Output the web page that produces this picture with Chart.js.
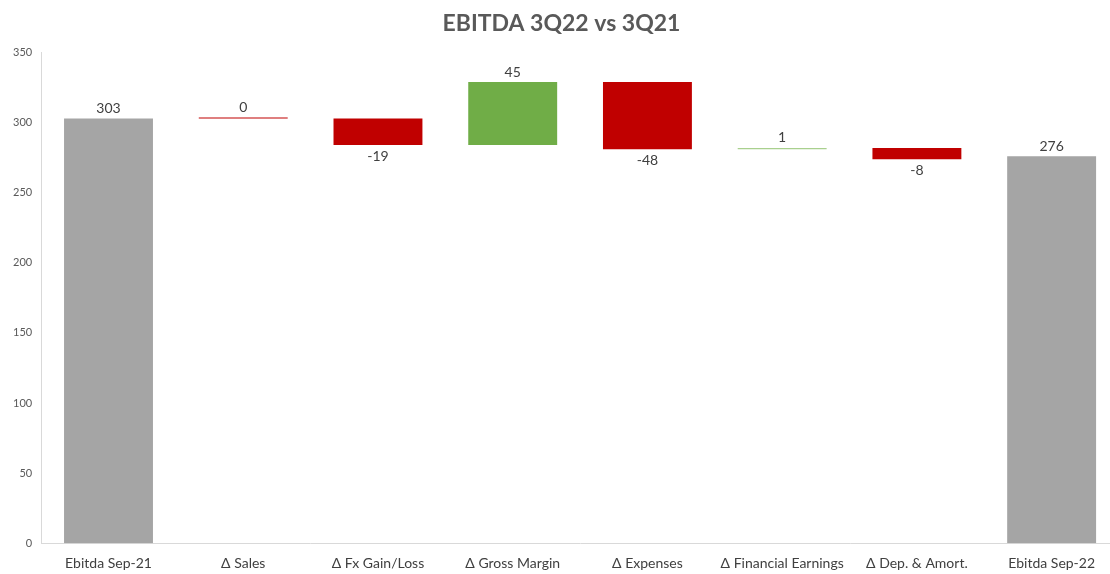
<!DOCTYPE html>
<html>
<head>
<meta charset="utf-8">
<script src="https://cdn.jsdelivr.net/npm/chart.js@4"></script>
<style>
  html, body { margin: 0; padding: 0; background: #fff; overflow: hidden; }
  #wrap { width: 1120px; height: 574px; position: relative; }
</style>
</head>
<body>
<div id="wrap"><canvas id="ebitdaChart"></canvas></div>
<script>
// Waterfall data
const categories = ['Ebitda Sep-21', 'Δ Sales', 'Δ Fx Gain/Loss', 'Δ Gross Margin', 'Δ Expenses', 'Δ Financial Earnings', 'Δ Dep. & Amort.', 'Ebitda Sep-22'];
const values = [303, 0, -19, 45, -48, 1, -8, 276];
const isTotal = [true, false, false, false, false, false, false, true];
const yTicks = [0, 50, 100, 150, 200, 250, 300, 350];

// Colors
const GRAY = '#a5a5a5';
const RED = '#c00000';
const GREEN = '#70ad47';

// Build floating ranges from running total
let running = 0;
const ranges = values.map((v, i) => {
    if (isTotal[i]) {
        running = v;
        return [0, v];
    }
    const start = running;
    running += v;
    return [start, running];
});

const barColors = values.map((v, i) => {
    if (isTotal[i]) return GRAY;
    if (v === 0) return RED;
    if (v === 1) return '#a9d08e';
    return v > 0 ? GREEN : RED;
});

// Value labels above / below bars
const valueLabels = {
    id: 'valueLabels',
    afterDatasetsDraw(chart) {
        const ctx = chart.ctx;
        const meta = chart.getDatasetMeta(0);
        ctx.save();
        ctx.font = '14px Lato, "Open Sans", sans-serif';
        ctx.fillStyle = '#404040';
        ctx.textAlign = 'center';
        meta.data.forEach((bar, i) => {
            const v = values[i];
            const top = Math.min(bar.y, bar.base);
            const bottom = Math.max(bar.y, bar.base);
            if (v >= 0) {
                ctx.textBaseline = 'bottom';
                ctx.fillText(String(v), bar.x, top - 3);
            } else {
                ctx.textBaseline = 'top';
                ctx.fillText(String(v), bar.x, bottom + 4);
            }
        });
        ctx.restore();
    }
};

const ctx = document.getElementById('ebitdaChart').getContext('2d');
const ebitdaChart = new Chart(ctx, {
    type: 'bar',
    data: {
        labels: categories,
        datasets: [{
            data: ranges,
            backgroundColor: barColors,
            borderWidth: 0,
            minBarLength: 1,
            categoryPercentage: 1,
            barPercentage: 0.66
        }]
    },
    options: {
        responsive: true,
        maintainAspectRatio: false,
        animation: false,
        layout: {
            padding: { left: 4, right: 1, top: 0, bottom: -10 }
        },
        plugins: {
            legend: { display: false },
            tooltip: { enabled: false },
            title: {
                display: true,
                text: 'EBITDA 3Q22 vs 3Q21',
                color: '#595959',
                font: { family: 'Lato, "Open Sans", sans-serif', size: 23, weight: 'bold' },
                padding: { top: 10, bottom: 15 }
            }
        },
        scales: {
            x: {
                grid: { display: false, drawTicks: false },
                border: { display: true, color: '#d9d9d9' },
                ticks: {
                    color: '#404040',
                    font: { family: 'Lato, "Open Sans", sans-serif', size: 14 },
                    maxRotation: 0,
                    autoSkip: false,
                    padding: 12
                }
            },
            y: {
                min: 0,
                max: 350,
                afterBuildTicks(scale) {
                    scale.ticks = yTicks.map(v => ({ value: v }));
                },
                grid: { display: false, drawTicks: false },
                border: { display: true, color: '#d9d9d9' },
                ticks: {
                    color: '#595959',
                    font: { family: 'Lato, "Open Sans", sans-serif', size: 11 },
                    padding: 9
                }
            }
        }
    },
    plugins: [valueLabels]
});
</script>
</body>
</html>
